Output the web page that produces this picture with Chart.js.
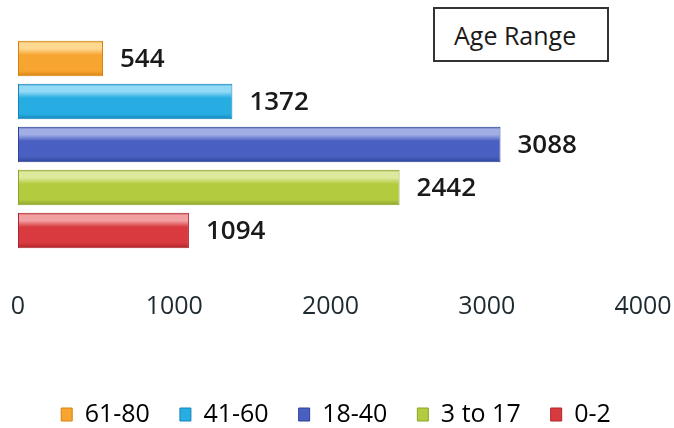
<!DOCTYPE html>
<html>
<head>
<meta charset="utf-8">
<script src="https://cdn.jsdelivr.net/npm/chart.js@4/dist/chart.umd.min.js"></script>
<style>
  html, body { margin: 0; padding: 0; background: #ffffff; }
  #wrap { position: relative; width: 674px; height: 428px; }
  #chart { display: block; }
  #titleBox {
    position: absolute; left: 433px; top: 7px; width: 172px; height: 51px;
    border: 2px solid #333; background: #fff;
    font-family: "Open Sans", sans-serif; font-size: 25px; color: #1a1a1a;
    box-sizing: content-box; line-height: 51px;
  }
  #titleBox span { position: absolute; left: 19px; top: 1px; }
</style>
</head>
<body>
<div id="wrap">
  <canvas id="chart" width="674" height="428"></canvas>
  <div id="titleBox"><span>Age Range</span></div>
</div>
<script>
const categories = ['61-80', '41-60', '18-40', '3 to 17', '0-2'];
const values = [544, 1372, 3088, 2442, 1094];
const xTicks = [0, 1000, 2000, 3000, 4000];

const mainColors = ['#F7A531', '#27ADE2', '#4960C2', '#B3CB3F', '#D83A3F'];
const lightColors = ['#FDD891', '#93DAF6', '#A1AEE6', '#DDEA9E', '#F3A0A2'];
const darkColors = ['#D5820E', '#1486BC', '#2C4399', '#8CA42A', '#AE252A'];

const FONT = '"Open Sans", sans-serif';

function barFill(ctx) {
  const i = ctx.dataIndex;
  const chart = ctx.chart;
  const y = chart.scales && chart.scales.y;
  if (!y || y.bottom === undefined) return mainColors[i];
  const band = (y.bottom - y.top) / categories.length;
  const cy = y.getPixelForValue(i);
  const h = band * 0.82;
  const top = cy - h / 2, bottom = cy + h / 2;
  const g = chart.ctx.createLinearGradient(0, top, 0, bottom);
  g.addColorStop(0, darkColors[i]);
  g.addColorStop(0.06, lightColors[i]);
  g.addColorStop(0.22, lightColors[i]);
  g.addColorStop(0.4, mainColors[i]);
  g.addColorStop(0.85, mainColors[i]);
  g.addColorStop(1, darkColors[i]);
  return g;
}

const valueLabels = {
  id: 'valueLabels',
  afterDatasetsDraw(chart) {
    const c = chart.ctx;
    const meta = chart.getDatasetMeta(0);
    c.save();
    c.font = '600 26px ' + FONT;
    c.fillStyle = '#1a1a1a';
    c.textAlign = 'left';
    c.textBaseline = 'middle';
    meta.data.forEach((bar, i) => {
      c.fillText(String(values[i]), bar.x + 17, bar.y + 1);
    });
    c.restore();
  }
};

new Chart(document.getElementById('chart'), {
  type: 'bar',
  data: {
    labels: categories,
    datasets: [{
      data: values,
      backgroundColor: barFill,
      borderColor: darkColors,
      borderWidth: 1,
      borderSkipped: false,
      barPercentage: 0.82,
      categoryPercentage: 1.0
    }]
  },
  options: {
    indexAxis: 'y',
    responsive: false,
    animation: false,
    events: [],
    layout: { padding: { top: 37, left: 0, right: 2, bottom: 0 } },
    scales: {
      x: {
        min: 0, max: 4000,
        afterBuildTicks(scale) { scale.ticks = xTicks.map(v => ({ value: v })); },
        grid: { display: false, drawTicks: false },
        border: { display: false },
        ticks: {
          color: '#1f2a30',
          font: { family: FONT, size: 25 },
          padding: 40,
          maxRotation: 0,
          autoSkip: false,
          callback: (v) => String(v)
        },
        afterFit(scale) {
          scale.height = 120;
          scale.paddingLeft = 18;
          scale.paddingRight = 31;
        }
      },
      y: { display: false }
    },
    plugins: {
      legend: {
        position: 'bottom',
        maxHeight: 56,
        labels: {
          boxWidth: 11,
          boxHeight: 13,
          padding: 30,
          color: '#1a1a1a',
          font: { family: FONT, size: 25 },
          generateLabels(chart) {
            return categories.map((cat, i) => ({
              text: cat,
              fillStyle: mainColors[i],
              strokeStyle: darkColors[i],
              lineWidth: 1,
              hidden: false,
              index: i,
              datasetIndex: 0
            }));
          }
        }
      },
      tooltip: { enabled: false },
      title: { display: false }
    }
  },
  plugins: [valueLabels]
});
</script>
</body>
</html>
